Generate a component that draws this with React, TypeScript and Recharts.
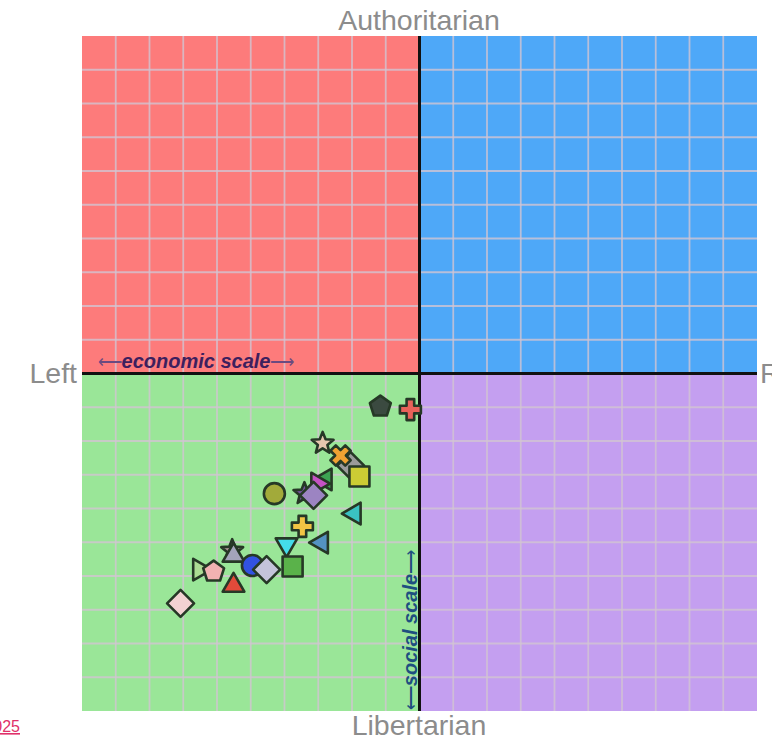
import React from 'react';
import { ScatterChart, Scatter, XAxis, YAxis, ReferenceArea, ReferenceLine } from 'recharts';

// Political compass positions (economic: -10 left .. 10 right; social: -10 libertarian .. 10 authoritarian)
const names = [
  'P1', 'P2', 'P3', 'P4', 'P5', 'P6', 'P7', 'P8', 'P9', 'P10', 'P11', 'P12',
  'P13', 'P14', 'P15', 'P16', 'P17', 'P18', 'P19', 'P20', 'P21', 'P22', 'P23', 'P24',
];
const economic = [
  -1.16, -0.27, -2.87, -2.04, -2.34, -1.78, -2.79, -3.02, -3.41, -3.14, -4.3, -1.93,
  -3.47, -2.9, -3.94, -3.76, -5.55, -5.51, -4.95, -4.53, -6.52, -6.1, -5.51, -7.08,
];
const social = [
  -0.98, -1.07, -2.07, -2.73, -2.43, -3.05, -3.14, -3.26, -3.56, -3.61, -3.56, -4.15,
  -4.53, -5.01, -5.13, -5.72, -5.25, -5.33, -5.69, -5.81, -5.81, -5.87, -6.22, -6.81,
];
const markerShapes = [
  'pentagon', 'plus', 'star', 'diamond', 'x', 'square', 'triLeft', 'triRight', 'star', 'diamond', 'circle', 'triLeft',
  'plus', 'triLeft', 'triDown', 'square', 'star', 'triUp', 'circle', 'diamond', 'triRight', 'pentagon', 'triUp', 'diamond',
];
const markerColors = [
  '#3b4a40', '#e8625a', '#e6c6ae', '#9a9a9a', '#f0a232', '#cccc34', '#3ca452', '#c452c4', '#74549e', '#9c84c2', '#a2aa3a', '#3ac2c2',
  '#f2c444', '#5492c2', '#44dcea', '#5ab24a', '#a89494', '#a4a4ba', '#3252e2', '#c4c4da', '#acdc94', '#f2b2b2', '#e24a3a', '#f2d2d2',
];

const gridTicks = [-9, -8, -7, -6, -5, -4, -3, -2, -1, 1, 2, 3, 4, 5, 6, 7, 8, 9];

const points = names.map((name, i) => ({
  name,
  x: economic[i],
  y: social[i],
  shape: markerShapes[i],
  color: markerColors[i],
}));

const STROKE = '#263826';

const poly = (pts: number[][]) => pts.map((p) => p.join(',')).join(' ');

function Marker(props: any) {
  const { cx, cy, payload } = props;
  if (cx == null || cy == null) return null;
  const fill = payload.color;
  const common = { fill, stroke: STROKE, strokeWidth: 2.6, strokeLinejoin: 'round' as const };
  switch (payload.shape) {
    case 'circle':
      return <circle cx={cx} cy={cy} r={10.5} {...common} />;
    case 'square':
      return <rect x={cx - 10} y={cy - 10} width={20} height={20} {...common} />;
    case 'diamond': {
      const r = 13.5;
      return <polygon points={poly([[cx, cy - r], [cx + r, cy], [cx, cy + r], [cx - r, cy]])} {...common} />;
    }
    case 'pentagon': {
      const r = 11;
      const pts = [0, 1, 2, 3, 4].map((k) => {
        const a = -Math.PI / 2 + (k * 2 * Math.PI) / 5;
        return [cx + r * Math.cos(a), cy + r * Math.sin(a)];
      });
      return <polygon points={poly(pts)} {...common} />;
    }
    case 'star': {
      const ro = 11.5, ri = 5;
      const pts: number[][] = [];
      for (let k = 0; k < 10; k++) {
        const a = -Math.PI / 2 + (k * Math.PI) / 5;
        const r = k % 2 === 0 ? ro : ri;
        pts.push([cx + r * Math.cos(a), cy + r * Math.sin(a)]);
      }
      return <polygon points={poly(pts)} {...common} />;
    }
    case 'plus':
    case 'x': {
      const L = 10.5, W = 3.8;
      const base = [
        [-W, -L], [W, -L], [W, -W], [L, -W], [L, W], [W, W], [W, L], [-W, L], [-W, W], [-L, W], [-L, -W], [-W, -W],
      ];
      const ang = payload.shape === 'x' ? Math.PI / 4 : 0;
      const pts = base.map(([px, py]) => [
        cx + px * Math.cos(ang) - py * Math.sin(ang),
        cy + px * Math.sin(ang) + py * Math.cos(ang),
      ]);
      return <polygon points={poly(pts)} {...common} />;
    }
    case 'triUp':
    case 'triDown':
    case 'triLeft':
    case 'triRight': {
      const r = 12.5;
      const rot = { triUp: -90, triDown: 90, triLeft: 180, triRight: 0 }[payload.shape as string] as number;
      const pts = [0, 1, 2].map((k) => {
        const a = ((rot + k * 120) * Math.PI) / 180;
        return [cx + r * Math.cos(a), cy + r * Math.sin(a) + (payload.shape === 'triUp' ? 2 : payload.shape === 'triDown' ? -2 : 0)];
      });
      return <polygon points={poly(pts)} {...common} />;
    }
    default:
      return <circle cx={cx} cy={cy} r={8} {...common} />;
  }
}

const FONT = 'Liberation Sans, Arial, sans-serif';
const labelStyle = { fontFamily: FONT, fontSize: 28.5, fill: '#8c8c8c' };

export default function App() {
  return (
    <div style={{ position: 'absolute', left: 0, top: 0, width: 772, height: 741, background: '#ffffff' }}>
      <ScatterChart width={772} height={741} margin={{ top: 36, right: 15, bottom: 30, left: 82 }}>
        <XAxis type="number" dataKey="x" domain={[-10, 10]} hide allowDataOverflow />
        <YAxis type="number" dataKey="y" domain={[-10, 10]} hide allowDataOverflow />
        <ReferenceArea x1={-10} x2={0} y1={0} y2={10} fill="#fd7b7b" fillOpacity={1} stroke="none" ifOverflow="visible" />
        <ReferenceArea x1={0} x2={10} y1={0} y2={10} fill="#4ea8f8" fillOpacity={1} stroke="none" ifOverflow="visible" />
        <ReferenceArea x1={-10} x2={0} y1={-10} y2={0} fill="#9ae698" fillOpacity={1} stroke="none" ifOverflow="visible" />
        <ReferenceArea x1={0} x2={10} y1={-10} y2={0} fill="#c49ff0" fillOpacity={1} stroke="none" ifOverflow="visible" />
        {gridTicks.map((t) => (
          <ReferenceLine key={'gx' + t} x={t} stroke="#d2c4d2" strokeOpacity={0.8} strokeWidth={1.8} />
        ))}
        {gridTicks.map((t) => (
          <ReferenceLine key={'gy' + t} y={t} stroke="#d2c4d2" strokeOpacity={0.8} strokeWidth={1.8} />
        ))}
        <ReferenceLine x={0} stroke="#111111" strokeWidth={3} />
        <ReferenceLine y={0} stroke="#111111" strokeWidth={3} />
        {points.map((p) => (
          <Scatter key={p.name} name={p.name} data={[p]} shape={<Marker />} isAnimationActive={false} />
        ))}
        <text x={419} y={30} textAnchor="middle" style={labelStyle}>Authoritarian</text>
        <text x={419} y={735} textAnchor="middle" style={labelStyle}>Libertarian</text>
        <text x={77} y={383} textAnchor="end" style={labelStyle}>Left</text>
        <text x={760} y={383} textAnchor="start" style={labelStyle}>Right</text>
        <text
          x={20}
          y={732}
          textAnchor="end"
          textDecoration="underline"
          style={{ fontFamily: FONT, fontSize: 16, fill: '#e0306a' }}
        >
          2025
        </text>
      </ScatterChart>
      <svg
        width={772}
        height={741}
        style={{ position: 'absolute', left: 0, top: 0, pointerEvents: 'none' }}
      >
        <text
          x={196}
          y={368}
          textAnchor="middle"
          style={{ fontFamily: FONT, fontSize: 20, fill: '#3e1f5e', fontStyle: 'italic', fontWeight: 'bold' }}
        >
          <tspan style={{ fontWeight: 'normal', fontStyle: 'normal', fill: '#6a4a80', fontSize: 17 }}>⟵</tspan>
          economic scale
          <tspan style={{ fontWeight: 'normal', fontStyle: 'normal', fill: '#6a4a80', fontSize: 17 }}>⟶</tspan>
        </text>
        <text
          x={417}
          y={630}
          textAnchor="middle"
          transform="rotate(-90 417 630)"
          style={{ fontFamily: FONT, fontSize: 20, fill: '#1e4f80', fontStyle: 'italic', fontWeight: 'bold' }}
        >
          <tspan style={{ fontWeight: 'normal', fontStyle: 'normal', fontSize: 17 }}>⟵</tspan>
          social scale
          <tspan style={{ fontWeight: 'normal', fontStyle: 'normal', fontSize: 17 }}>⟶</tspan>
        </text>
      </svg>
    </div>
  );
}
